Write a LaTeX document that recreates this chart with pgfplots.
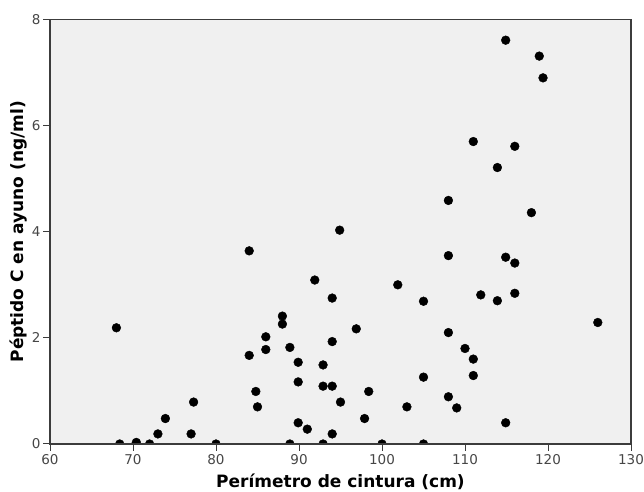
\documentclass[border=0pt]{standalone}
\usepackage{pgfplots}
\pgfplotsset{compat=1.18}
\usepackage{fontspec}
\setmainfont{DejaVu Sans}
\definecolor{panel}{RGB}{240,240,240}
\definecolor{axisgray}{RGB}{60,60,60}
\definecolor{ticktext}{RGB}{70,70,70}

\pgfplotstableread{
x y
68 2.19
68.4 0
70.4 0.03
72 0
73 0.19
73.9 0.48
77 0.19
77.3 0.79
80 0
84 3.64
84 1.67
84.8 0.99
85 0.70
86 2.02
86 1.78
88 2.41
88 2.26
88.9 1.82
88.9 0
89.9 1.54
89.9 1.17
89.9 0.40
91 0.28
91.9 3.09
92.9 1.49
92.9 1.09
92.9 0
94 2.75
94 1.93
94 1.09
94 0.19
94.9 4.03
95 0.79
96.9 2.17
97.9 0.48
98.4 0.99
100 0
101.9 3.00
103 0.70
105 2.69
105 1.26
105 0
108 4.59
108 3.55
108 2.10
108 0.89
109 0.68
110 1.80
111 5.70
111 1.60
111 1.29
111.9 2.81
113.9 5.21
113.9 2.70
114.9 7.61
114.9 3.52
114.9 0.40
116 5.61
116 3.41
116 2.84
118 4.36
118.95 7.31
119.4 6.90
126 2.29
}\peptido

\begin{document}
\begin{tikzpicture}
\begin{axis}[
  name=ax,
  scale only axis,
  width=581bp, height=424.5bp,
  xmin=60, xmax=130, ymin=0, ymax=8,
  xtick={60,70,...,130},
  ytick={0,2,4,6,8},
  tick align=outside,
  xtick pos=bottom, ytick pos=left,
  major tick length=7bp,
  tick style={axisgray, line width=1bp},
  axis line style={axisgray, line width=1.2bp},
  axis background/.style={fill=panel},
  axis on top,
  clip marker paths=true,
  /pgf/number format/assume math mode=true,
  ticklabel style={font=\fontsize{13.5bp}{15bp}\selectfont, text=ticktext},
  xticklabel style={yshift=0bp},
  yticklabel style={xshift=1bp},
  xlabel={\textbf{Perímetro de cintura (cm)}},
  ylabel={\textbf{Péptido C en ayuno (ng/ml)}},
  label style={font=\fontsize{17bp}{19bp}\selectfont, inner sep=0pt},
  xlabel style={at={(axis description cs:0.5,0)}, anchor=base, yshift=-44bp},
  ylabel style={at={(axis description cs:0,0.5)}, anchor=base, yshift=26.5bp},
]
\addplot[only marks, mark=*, mark size=4.4bp, mark options={fill=black, draw=black}] table[x=x, y=y] {\peptido};
\end{axis}
\pgfresetboundingbox
\path[use as bounding box] ([shift={(-50bp,-48bp)}]ax.south west) rectangle ([shift={(13bp,19.5bp)}]ax.north east);
\end{tikzpicture}
\end{document}
